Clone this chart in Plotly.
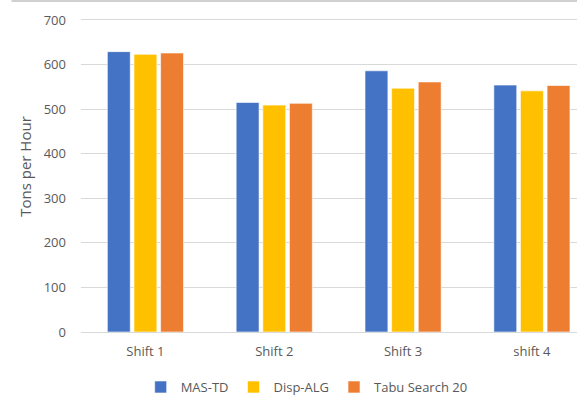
import plotly.graph_objects as go

shifts = ["Shift 1", "Shift 2", "Shift 3", "shift 4"]
mas_td = [629, 515, 586, 554]
disp_alg = [623, 509, 547, 541]
tabu_20 = [626, 513, 561, 553]
y_ticks = [0, 100, 200, 300, 400, 500, 600, 700]

series = [
    ("MAS-TD", mas_td, "#4472C4"),
    ("Disp-ALG", disp_alg, "#FFC000"),
    ("Tabu Search 20", tabu_20, "#ED7D31"),
]

fig = go.Figure()
for name, vals, color in series:
    fig.add_trace(go.Bar(
        x=shifts, y=vals, name=name,
        marker=dict(color=color, line=dict(color="rgba(255,255,255,0.6)", width=1)),
    ))

font_family = "Open Sans"
text_grey = "#595959"
frame_grey = "#D0D0D0"
fig.update_layout(
    width=577, height=399,
    margin=dict(l=81, r=0, t=1, b=67, autoexpand=False),
    paper_bgcolor="white", plot_bgcolor="white",
    barmode="group", bargap=0.38, bargroupgap=0.14,
    font=dict(family=font_family, size=13, color=text_grey),
    showlegend=True,
    legend=dict(
        orientation="h", x=0.455, xanchor="center",
        yref="container", y=0.03, yanchor="middle",
        font=dict(size=13, color=text_grey), itemwidth=30,
        traceorder="normal", itemclick=False,
    ),
    xaxis=dict(
        range=[-0.5, 3.35], showgrid=False, ticks="", showline=False,
        zeroline=False,
        tickfont=dict(size=13, color=text_grey), ticklabelstandoff=10,
    ),
    yaxis=dict(
        range=[0, 742.6], tickvals=y_ticks, showgrid=True, gridcolor="#D9D9D9",
        gridwidth=1, zeroline=True, zerolinecolor="#D9D9D9", zerolinewidth=1,
        ticks="", showline=False, tickfont=dict(size=13, color=text_grey),
        ticklabelstandoff=14,
        title=dict(text="Tons per Hour", font=dict(size=15, color=text_grey), standoff=8),
    ),
    # light frame edge along the top of the chart area
    shapes=[dict(
        type="line", xref="paper", yref="paper", layer="above",
        x0=-0.14, x1=1.0, y0=1.0, y1=1.0,
        line=dict(color=frame_grey, width=2),
    )],
)

fig.write_html("out.html")
